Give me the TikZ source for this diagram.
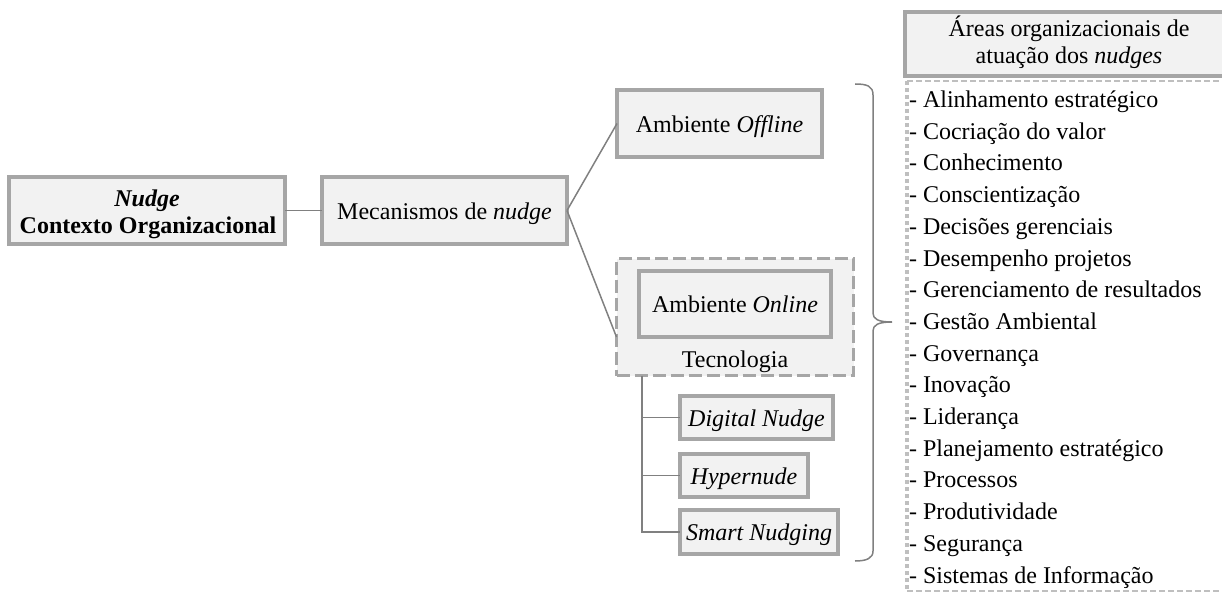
\documentclass[tikz,border=0pt]{standalone}
\usepackage{fontspec}
\setmainfont{Liberation Serif}
\definecolor{boxborder}{RGB}{166,166,166}
\definecolor{boxfill}{RGB}{242,242,242}
\definecolor{linegray}{RGB}{128,128,128}
\definecolor{dotgray}{RGB}{191,191,191}
\begin{document}
\begin{tikzpicture}[x=1pt,y=-1pt,
  every node/.style={inner sep=0pt, outer sep=0pt, font=\fontsize{24}{27}\selectfont},
  box/.style={draw=boxborder, line width=4pt, fill=boxfill, text height=17pt, text depth=0pt},
  dashbox/.style={draw=boxborder, line width=3.5pt, fill=boxfill, dash pattern=on 13pt off 5pt},
  conn/.style={draw=linegray, line width=1.5pt},
  dotline/.style={draw=dotgray, line width=4pt, dash pattern=on 4pt off 3pt},
  dashline/.style={draw=dotgray, line width=1.5pt, dash pattern=on 6pt off 3pt},
  itemtext/.style={anchor=base west}
  ]
\useasboundingbox (0,0) rectangle (1222,599);
\begin{scope}
\clip (0,0) rectangle (1222,599);

% left part
\node[box, minimum width=276pt, minimum height=67pt] (nudge) at (147,210.5) {};
\node[anchor=base] (nudgeA) at (147,206) {\textbf{\textit{Nudge}}};
\node[anchor=base] (nudgeB) at (148,233) {\textbf{Contexto Organizacional}};

\node[box, minimum width=245pt, minimum height=67pt] (mec) at (444.5,210.5) {Mecanismos de \textit{nudge}};
\node[box, minimum width=205pt, minimum height=67pt] (off) at (719.5,123.5) {Ambiente \textit{Offline}};

\node[dashbox, minimum width=237pt, minimum height=117pt] (tec) at (735,317) {};
\node[box, minimum width=192pt, minimum height=66pt] (on) at (735,304) {Ambiente \textit{Online}};
\node[anchor=base] (teclabel) at (735,367) {Tecnologia};

\node[box, minimum width=153pt, minimum height=43pt] (dig) at (756.5,417.5) {\textit{Digital Nudge}};
\node[box, minimum width=128pt, minimum height=43pt] (hyp) at (744,475.5) {\textit{Hypernude}};
\node[box, minimum width=158pt, minimum height=44pt] (smart) at (759,532) {\textit{Smart Nudging}};

% connectors
\draw[conn] (nudge.east) -- (mec.west);
\draw[conn] (mec.east) -- (off.west);
\coordinate (tecin) at ([yshift=-20pt]tec.west);
\draw[conn] (mec.east) -- (tecin);
\coordinate (treetop) at ([xshift=25.5pt]tec.south west);
\draw[conn] (treetop) |- (smart.west);
\draw[conn] (treetop |- dig.west) -- (dig.west);
\draw[conn] (treetop |- hyp.west) -- (hyp.west);

% brace
\draw[conn] (855,84) .. controls (867,84) and (873,86) .. (873,95)
  -- (873,313) .. controls (873,319) and (878,322) .. (892,322)
  .. controls (878,322) and (873,325) .. (873,331)
  -- (873,551) .. controls (873,558) and (867,561) .. (855,561);

% header (runs past the right edge)
\node[box, minimum width=400pt, minimum height=64pt, anchor=west] (hdr) at (905,44) {};
\node[anchor=base] (hdrA) at (1069,36.5) {Áreas organizacionais de};
\node[anchor=base] (hdrB) at (1069,64) {atuação dos \textit{nudges}};

% list (runs past the right edge)
\node[minimum width=400pt, minimum height=510pt, anchor=north west] (list) at (907,81) {};
\draw[dotline] (list.north west) -- (list.south west);
\draw[dashline] (list.north west) -- (list.north east);
\draw[dashline] (list.south west) -- (list.south east);
\foreach \t [count=\i from 0] in {Alinhamento estratégico, Cocriação do valor, Conhecimento, Conscientização, Decisões gerenciais, Desempenho projetos, Gerenciamento de resultados, Gestão Ambiental, Governança, Inovação, Liderança, Planejamento estratégico, Processos, Produtividade, Segurança, Sistemas de Informação}
  \node[itemtext] (item\i) at (909,{107.5+31.7*\i}) {- \t};
\end{scope}
\end{tikzpicture}
\end{document}
